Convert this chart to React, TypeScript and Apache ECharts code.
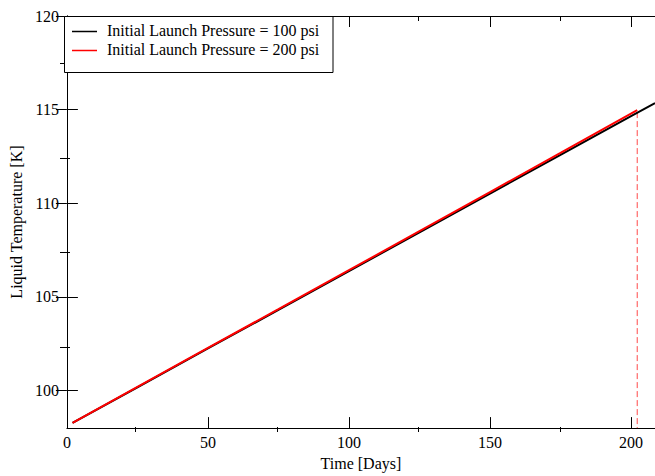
import React, { useEffect, useRef } from "react";
import * as echarts from "echarts";

const SERIES_NAMES = [
  "Initial Launch Pressure = 100 psi",
  "Initial Launch Pressure = 200 psi",
];
const days100 = [2, 25, 50, 75, 100, 125, 150, 175, 200, 208.5];
const temp100 = [98.28, 100.18, 102.25, 104.31, 106.38, 108.45, 110.52, 112.58, 114.65, 115.35];
const days200 = [2, 25, 50, 75, 100, 125, 150, 175, 202.2];
const temp200 = [98.28, 100.2, 102.28, 104.35, 106.43, 108.51, 110.6, 112.69, 114.97];
const launchEndDay = 202.2;
const launchDropTop = 114.87;
const xMajorTicks = [0, 50, 100, 150, 200];
const xMinorTicks = [25, 75, 125, 175];
const yMajorTicks = [100, 105, 110, 115, 120];
const yMinorTicks = [102.5, 107.5, 112.5, 117.5];
const X_MIN = 0;
const X_MAX = 208.5;
const Y_MIN = 98;
const Y_MAX = 120;

const FONT = "'Liberation Serif', 'Times New Roman', serif";

export default function App() {
  const ref = useRef<HTMLDivElement>(null);
  useEffect(() => {
    if (!ref.current) return;
    const chart = echarts.init(ref.current, undefined, { renderer: "svg" });
    const gridBox = { left: 65, top: 16, width: 591, height: 416 };
    const axisLine = { show: true, lineStyle: { color: "#000", width: 1 } };
    const xBase = { type: "value", min: X_MIN, max: X_MAX, splitLine: { show: false } };
    const yBase = { type: "value", min: Y_MIN, max: Y_MAX, splitLine: { show: false } };
    const majorTick = (vals: number[]) => ({
      show: true, customValues: vals, inside: true, length: 11,
      lineStyle: { color: "#000", width: 1 },
    });
    const minorTick = (vals: number[]) => ({
      show: true, customValues: vals, inside: true, length: 5,
      lineStyle: { color: "#000", width: 1 },
    });
    const labelStyle = { fontFamily: FONT, fontSize: 16, color: "#000" };

    const option: any = {
      animation: false,
      backgroundColor: "#fff",
      grid: [{ ...gridBox }, { ...gridBox }],
      xAxis: [
        {
          ...xBase, gridIndex: 0, position: "bottom", axisLine,
          axisTick: majorTick(xMajorTicks),
          axisLabel: { ...labelStyle, customValues: xMajorTicks, margin: 6 },
          name: "Time [Days]", nameLocation: "middle", nameGap: 21,
          nameTextStyle: { ...labelStyle },
        },
        {
          ...xBase, gridIndex: 0, position: "top", axisLine,
          axisTick: majorTick(xMajorTicks), axisLabel: { show: false },
        },
        {
          ...xBase, gridIndex: 1, position: "bottom", axisLine: { show: false },
          axisTick: minorTick(xMinorTicks), axisLabel: { show: false },
        },
        {
          ...xBase, gridIndex: 1, position: "top", axisLine: { show: false },
          axisTick: minorTick(xMinorTicks), axisLabel: { show: false },
        },
      ],
      yAxis: [
        {
          ...yBase, gridIndex: 0, position: "left", axisLine,
          axisTick: majorTick(yMajorTicks),
          axisLabel: { ...labelStyle, customValues: yMajorTicks, margin: 8, align: "right" },
          name: "Liquid Temperature [K]", nameLocation: "middle", nameGap: 36,
          nameTextStyle: { ...labelStyle },
        },
        {
          ...yBase, gridIndex: 0, position: "right", axisLine,
          axisTick: majorTick(yMajorTicks), axisLabel: { show: false },
        },
        {
          ...yBase, gridIndex: 1, position: "left", axisLine: { show: false },
          axisTick: minorTick(yMinorTicks), axisLabel: { show: false },
        },
        {
          ...yBase, gridIndex: 1, position: "right", axisLine: { show: false },
          axisTick: minorTick(yMinorTicks), axisLabel: { show: false },
        },
      ],
      series: [
        {
          type: "line", name: SERIES_NAMES[0], xAxisIndex: 0, yAxisIndex: 0,
          data: days100.map((d, i) => [d, temp100[i]]),
          symbol: "none", showSymbol: false, color: "#000",
          lineStyle: { color: "#000", width: 2 }, clip: true, z: 2,
        },
        {
          type: "line", name: SERIES_NAMES[1], xAxisIndex: 0, yAxisIndex: 0,
          data: days200.map((d, i) => [d, temp200[i]]),
          symbol: "none", showSymbol: false, color: "#ff0000",
          lineStyle: { color: "#ff0000", width: 2 }, clip: true, z: 3,
        },
        {
          type: "line", name: "launch end", xAxisIndex: 0, yAxisIndex: 0,
          data: [[launchEndDay, launchDropTop], [launchEndDay, Y_MIN]],
          symbol: "none", showSymbol: false, color: "#ff4a4a", silent: true,
          lineStyle: { color: "#ff4a4a", width: 1, type: [6, 3] }, clip: true, z: 1,
        },
      ],
      graphic: [
        {
          type: "rect", z: 100,
          shape: { x: 64.5, y: 16.5, width: 268.5, height: 56 },
          style: { fill: "#fff", stroke: "#000", lineWidth: 1 },
        },
        {
          type: "line", z: 101,
          shape: { x1: 72, y1: 31.5, x2: 97, y2: 31.5 },
          style: { stroke: "#000", lineWidth: 1.5 },
        },
        {
          type: "line", z: 101,
          shape: { x1: 72, y1: 50.5, x2: 97, y2: 50.5 },
          style: { stroke: "#ff0000", lineWidth: 1.5 },
        },
        {
          type: "text", z: 101, x: 107, y: 30,
          style: { text: SERIES_NAMES[0], fill: "#000", fontFamily: FONT, fontSize: 16, verticalAlign: "middle", align: "left" },
        },
        {
          type: "text", z: 101, x: 107, y: 49,
          style: { text: SERIES_NAMES[1], fill: "#000", fontFamily: FONT, fontSize: 16, verticalAlign: "middle", align: "left" },
        },
      ],
    };
    chart.setOption(option);
    return () => chart.dispose();
  }, []);
  return (
    <div
      ref={ref}
      style={{ position: "fixed", left: 0, top: 0, width: 655, height: 476 }}
    />
  );
}
